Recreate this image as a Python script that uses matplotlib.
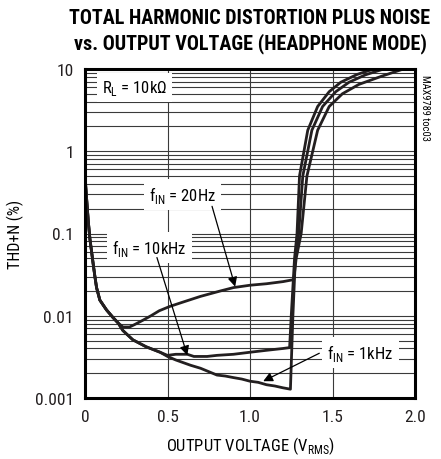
import matplotlib
matplotlib.use("Agg")
import matplotlib.pyplot as plt
from matplotlib import font_manager

# which font families are available
avail = {f.name for f in font_manager.fontManager.ttflist}


def pick(cands, fallback='DejaVu Sans'):
    for c in cands:
        if c in avail:
            return c
    return fallback


body_font = pick(['Roboto Condensed', 'Liberation Sans Narrow', 'Archivo Narrow', 'PT Sans Narrow',
                  'Arial Narrow', 'Barlow Semi Condensed', 'Barlow Condensed', 'Open Sans Condensed',
                  'Encode Sans Condensed', 'IBM Plex Sans Condensed'])
title_font = pick(['Roboto Condensed', 'Archivo Narrow', 'Barlow Condensed', 'PT Sans Narrow',
                   'Liberation Sans Narrow', 'Oswald', 'Fjalla One'])

plt.rcParams['font.family'] = [body_font, 'DejaVu Sans']
plt.rcParams['mathtext.fontset'] = 'custom'
plt.rcParams['mathtext.rm'] = body_font

# shared steep start of all three curves
start_x = [0.0, 0.01, 0.02, 0.03, 0.04, 0.05, 0.06, 0.07, 0.09, 0.13, 0.17, 0.20]
start_y = [0.5, 0.26, 0.14, 0.085, 0.06, 0.042, 0.03, 0.022, 0.0155, 0.0118, 0.0095, 0.0082]

# fIN = 20Hz
hz20_x = [0.23, 0.27, 0.30, 0.35, 0.40, 0.45, 0.515, 0.60, 0.70, 0.82, 0.90, 1.00,
          1.10, 1.20, 1.265, 1.28, 1.31, 1.345, 1.41, 1.48, 1.56, 1.66, 1.80, 1.93]
hz20_y = [0.0073, 0.0073, 0.0078, 0.0088, 0.0100, 0.0115, 0.013, 0.0148, 0.0172, 0.020,
          0.022, 0.0235, 0.0245, 0.026, 0.0275, 0.05, 0.1, 0.5, 1.8, 3.5, 5.0, 6.5, 8.2, 10.0]

# fIN = 10kHz
khz10_x = [0.23, 0.29, 0.37, 0.455, 0.50, 0.55, 0.62, 0.66, 0.74, 0.80, 0.90, 1.00,
           1.10, 1.20, 1.24, 1.25, 1.27, 1.285, 1.30, 1.35, 1.41, 1.48, 1.55, 1.65, 1.75]
khz10_y = [0.0066, 0.0051, 0.0042, 0.0036, 0.0033, 0.0034, 0.0034, 0.0032, 0.0032, 0.0033,
           0.0034, 0.0036, 0.0038, 0.0040, 0.0041, 0.01, 0.05, 0.1, 0.5, 1.8, 3.5, 5.3, 6.9, 8.6, 10.0]

# fIN = 1kHz
khz1_x = [0.23, 0.29, 0.37, 0.455, 0.50, 0.55, 0.64, 0.70, 0.80, 0.85, 0.90, 0.95, 1.00,
          1.05, 1.10, 1.15, 1.20, 1.245, 1.26, 1.275, 1.295, 1.32, 1.375, 1.44, 1.52, 1.60,
          1.70, 1.81]
khz1_y = [0.0066, 0.0051, 0.0042, 0.0036, 0.0032, 0.0029, 0.0025, 0.0023, 0.0019, 0.00185,
          0.00177, 0.0017, 0.0016, 0.00155, 0.00145, 0.0014, 0.00133, 0.00128, 0.01, 0.05,
          0.1, 0.5, 1.8, 3.5, 5.3, 6.9, 8.5, 10.0]

xticks = [0, 0.5, 1.0, 1.5, 2.0]
xtick_labels = ['0', '0.5', '1.0', '1.5', '2.0']
yticks = [0.001, 0.01, 0.1, 1, 10]
ytick_labels = ['0.001', '0.01', '0.1', '1', '10']

fig = plt.figure(figsize=(4.41, 4.60), dpi=100)
ax = fig.add_axes([85 / 441, 1 - 399 / 460, 330 / 441, 329 / 460])
ax.set_yscale('log')
ax.set_xlim(0, 2.0)
ax.set_ylim(0.001, 10)

# grid: every minor decade line and the 0.5 V lines
for dec in [0.001, 0.01, 0.1, 1]:
    for m in range(1, 10):
        ax.axhline(dec * m, color='#3a3a3a', lw=0.8, zorder=1)
for v in [0.5, 1.0, 1.5]:
    ax.axvline(v, color='#3a3a3a', lw=0.8, zorder=1)

line_kw = dict(color='#231f20', lw=2.0, zorder=3, solid_joinstyle='round')
for xs, ys in [(hz20_x, hz20_y), (khz10_x, khz10_y), (khz1_x, khz1_y)]:
    ax.plot(start_x + xs, start_y + ys, **line_kw)

box = dict(boxstyle='square,pad=0.3', fc='white', ec='none')
ax.text(0.30, 5.9, r'R$_\mathregular{L}$ = 10k$\mathregular{\Omega}$', fontsize=12,
        ha='center', va='center', bbox=box, zorder=4)
ax.text(0.59, 0.30, r'f$_\mathregular{IN}$ = 20Hz', fontsize=12,
        ha='center', va='center', bbox=box, zorder=4)
ax.text(0.39, 0.068, r'f$_\mathregular{IN}$ = 10kHz', fontsize=12,
        ha='center', va='center', bbox=box, zorder=4)
ax.text(1.67, 0.0036, r'f$_\mathregular{IN}$ = 1kHz', fontsize=12,
        ha='center', va='center', bbox=box, zorder=4)

arrow = dict(arrowstyle='-|>', color='k', lw=0.9, mutation_scale=14, shrinkA=0, shrinkB=0)
ax.annotate('', xy=(0.91, 0.0226), xytext=(0.77, 0.214), arrowprops=arrow, zorder=5)
ax.annotate('', xy=(0.62, 0.0033), xytext=(0.436, 0.051), arrowprops=arrow, zorder=5)
ax.annotate('', xy=(1.08, 0.0016), xytext=(1.42, 0.0035), arrowprops=arrow, zorder=5)

ax.set_xticks(xticks)
ax.set_xticklabels(xtick_labels)
ax.set_yticks(yticks)
ax.set_yticklabels(ytick_labels)
ax.minorticks_off()
ax.tick_params(length=0, labelsize=12.5, pad=8, labelcolor='#231f20')
for s in ax.spines.values():
    s.set_linewidth(2.2)
    s.set_zorder(6)

ax.set_xlabel(r'OUTPUT VOLTAGE (V$_\mathregular{RMS}$)', fontsize=12, labelpad=7)
ax.set_ylabel('THD+N (%)', fontsize=11.5, labelpad=8)

fig.text(250 / 441, 1 - 18 / 460, 'TOTAL HARMONIC DISTORTION PLUS NOISE',
         ha='center', va='center', fontsize=14.5, fontweight='bold', family=[title_font, 'DejaVu Sans'])
fig.text(250 / 441, 1 - 44 / 460, 'vs. OUTPUT VOLTAGE (HEADPHONE MODE)',
         ha='center', va='center', fontsize=14.5, fontweight='bold', family=[title_font, 'DejaVu Sans'])
fig.text(425 / 441, 1 - 108 / 460, 'MAX9789 toc03', rotation=270,
         ha='center', va='center', fontsize=7.5)

fig.savefig('out.png', dpi=100)
